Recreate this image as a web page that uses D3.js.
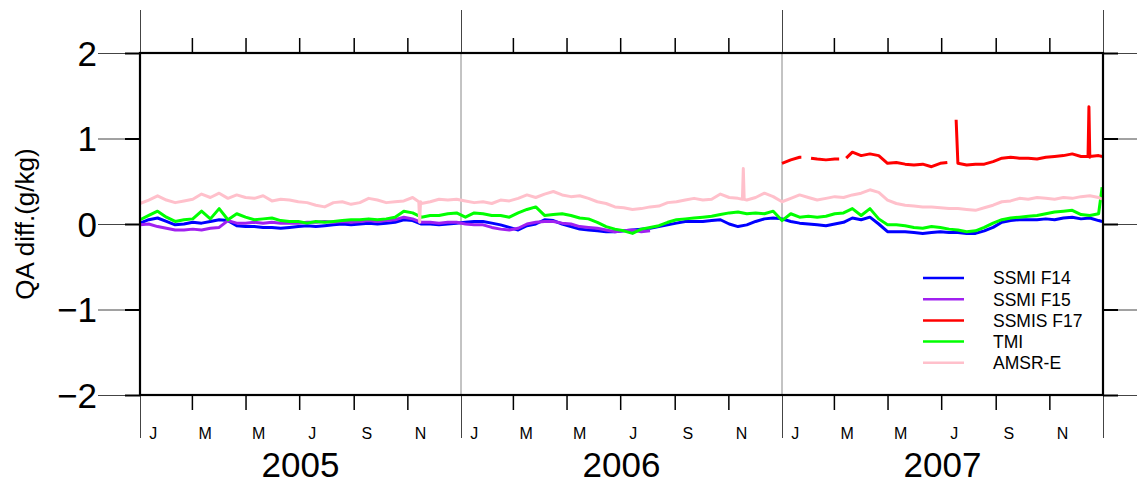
<!DOCTYPE html>
<html><head><meta charset="utf-8">
<script src="https://cdn.jsdelivr.net/npm/d3@7"></script>
<style>
html,body{margin:0;padding:0;background:#fff;}
svg text{font-family:"Liberation Sans",Arial,Helvetica,sans-serif;}
</style></head>
<body><svg id="c" width="1137" height="484"></svg>
<script>
// ---- data (days since 2005-01-01, every 10 days, plus the final day) ----
const days = d3.range(0, 1091, 10).concat([1094]);
const years = [2005, 2006, 2007];
const yTicks = [-2, -1, 0, 1, 2];
const monthLetters = ["J","F","M","A","M","J","J","A","S","O","N","D"];
const seriesNames = ["SSMI F14", "SSMI F15", "SSMIS F17", "TMI", "AMSR-E"];
const seriesColors = ["#0000ff", "#a020f0", "#ff0000", "#00ff00", "#ffc0cb"];

const f14 = [0.01,0.05,0.07,0.03,-0.01,0.00,0.02,0.01,0.03,0.05,0.04,-0.02,-0.03,-0.03,-0.04,-0.04,-0.05,-0.04,-0.03,-0.02,
 -0.03,-0.02,-0.01,0.00,-0.01,0.00,0.01,0.00,0.01,0.02,0.05,0.04,0.00,0.00,-0.01,0.00,0.01,0.02,0.03,0.03,
 0.01,-0.01,-0.04,-0.07,-0.02,0.00,0.05,0.04,0.00,-0.03,-0.06,-0.07,-0.08,-0.09,-0.09,-0.08,-0.07,-0.06,-0.05,-0.03,
 -0.01,0.01,0.03,0.03,0.03,0.04,0.05,0.00,-0.03,-0.01,0.03,0.06,0.07,0.06,0.03,0.01,0.00,-0.01,-0.02,0.00,
 0.02,0.07,0.05,0.08,0.00,-0.09,-0.09,-0.09,-0.10,-0.11,-0.10,-0.09,-0.10,-0.10,-0.11,-0.11,-0.08,-0.04,0.02,0.04,
 0.05,0.05,0.05,0.06,0.05,0.07,0.08,0.06,0.07,0.04,0.03];
const f15 = [-0.01,0.00,-0.03,-0.05,-0.07,-0.07,-0.06,-0.07,-0.05,-0.04,0.04,0.01,0.01,0.02,0.01,0.02,0.01,0.01,0.01,0.02,
 0.02,0.03,0.02,0.03,0.02,0.03,0.04,0.03,0.04,0.05,0.08,0.06,0.02,0.02,0.01,0.02,0.02,0.00,-0.01,-0.01,
 -0.04,-0.06,-0.07,-0.05,0.00,0.02,0.03,0.03,0.01,0.00,-0.03,-0.04,-0.05,-0.07,-0.09,-0.08,-0.07,-0.09,-0.08,null,
 null,null,null,null,null,null,null,null,null,null,null,null,null,null,null,null,null,null,null,null,
 null,null,null,null,null,null,null,null,null,null,null,null,null,null,null,null,null,null,null,null,
 null,null,null,null,null,null,null,null,null,null,null];
const f17 = [null,null,null,null,null,null,null,null,null,null,null,null,null,null,null,null,null,null,null,null,
 null,null,null,null,null,null,null,null,null,null,null,null,null,null,null,null,null,null,null,null,
 null,null,null,null,null,null,null,null,null,null,null,null,null,null,null,null,null,null,null,null,
 null,null,null,null,null,null,null,null,null,null,null,null,null,0.71,0.75,0.78,null,0.76,0.75,0.76,
 null,0.84,0.80,0.82,0.80,0.71,0.72,0.70,0.69,0.70,0.67,0.71,null,0.71,0.69,0.70,0.70,0.73,0.77,0.78,
 0.77,0.77,0.76,0.78,0.79,0.80,0.82,0.79,0.78,0.80,0.79];
// SSMIS F17 values right at the edges of its data gaps: [day, value]
const f17Edges = [[752, 0.78], [763, 0.77], [795, 0.76], [803, 0.77], [918, 0.72]];
const tmi = [0.05,0.10,0.15,0.08,0.03,0.05,0.06,0.15,0.06,0.18,0.05,0.12,0.08,0.05,0.06,0.07,0.04,0.03,0.03,0.01,
 0.03,0.02,0.03,0.04,0.05,0.05,0.06,0.05,0.06,0.08,0.15,0.13,0.08,0.10,0.10,0.12,0.13,0.08,0.13,0.12,
 0.10,0.10,0.08,0.13,0.17,0.20,0.10,0.11,0.12,0.10,0.07,0.06,0.02,-0.03,-0.06,-0.08,-0.11,-0.06,-0.04,-0.02,
 0.02,0.05,0.06,0.07,0.08,0.09,0.11,0.13,0.14,0.12,0.13,0.12,0.15,0.04,0.12,0.08,0.09,0.08,0.09,0.12,
 0.13,0.18,0.10,0.18,0.06,-0.01,-0.01,-0.02,-0.04,-0.05,-0.03,-0.04,-0.06,-0.07,-0.09,-0.08,-0.04,0.01,0.05,0.07,
 0.08,0.09,0.10,0.12,0.14,0.15,0.16,0.11,0.10,0.12,0.43];
const amsre = [0.24,0.28,0.33,0.28,0.25,0.27,0.29,0.35,0.31,0.36,0.30,0.34,0.31,0.30,0.33,0.27,0.29,0.28,0.26,0.25,
 0.22,0.20,0.25,0.26,0.23,0.25,0.30,0.28,0.25,0.26,0.27,0.31,0.24,0.26,0.29,0.28,0.29,0.27,0.25,0.26,
 0.24,0.28,0.27,0.30,0.34,0.31,0.35,0.38,0.34,0.32,0.33,0.30,0.26,0.24,0.20,0.19,0.17,0.18,0.20,0.21,
 0.25,0.26,0.28,0.30,0.28,0.29,0.35,0.31,0.30,0.28,0.31,0.36,0.32,0.26,0.30,0.34,0.31,0.28,0.30,0.32,
 0.31,0.34,0.36,0.40,0.37,0.28,0.24,0.22,0.21,0.20,0.20,0.19,0.18,0.18,0.17,0.16,0.19,0.22,0.26,0.27,
 0.30,0.29,0.31,0.30,0.29,0.31,0.30,0.32,0.33,0.31,0.29];
// single-day spikes: series index, day, peak value, surrounding value
const spikes = [
  {s:4, day:318, peak:0.02, base:0.26},
  {s:4, day:686, peak:0.65, base:0.29},
  {s:2, day:928, peak:1.22, base:null},
  {s:2, day:1079, peak:1.37, base:0.79}
];
const seriesValues = [f14, f15, f17, tmi, amsre];

// ---- layout ----
const L = 140, R = 1103, T = 53, B = 395;
const svg = d3.select("#c");
const t0 = Date.UTC(2005,0,1);
const dayDate = d => new Date(t0 + d*864e5);
const x = d3.scaleUtc().domain([new Date(Date.UTC(2005,0,1)), new Date(Date.UTC(2008,0,1))]).range([L, R]);
const y = d3.scaleLinear().domain([-2, 2]).range([B, T]);

const yearStarts = years.concat([2008]).map(yr => new Date(Date.UTC(yr,0,1)));
const monthTicks = d3.utcMonth.every(2).range(new Date(Date.UTC(2005,0,1)), new Date(Date.UTC(2008,0,1)));
const innerMonths = monthTicks.filter(d => d.getUTCMonth() !== 0);

// year boundary lines inside plot
svg.append("g").selectAll("line").data(yearStarts.slice(1,3)).join("line")
  .attr("x1", d => x(d)).attr("x2", d => x(d)).attr("y1", T).attr("y2", B)
  .attr("stroke", "#888").attr("stroke-width", 1);

// series
const line = d3.line().defined(p => p[1] != null).x(p => x(dayDate(p[0]))).y(p => y(p[1]));
seriesValues.forEach((vals, si) => {
  let pts = days.map((d, i) => [d, vals[i]]);
  if (si === 2) f17Edges.forEach(p => pts.push([p[0], p[1]]));
  spikes.filter(s => s.s === si).forEach(s => {
    pts.push([s.day, s.peak]);
    if (s.base != null) { pts.push([s.day - 1, s.base]); pts.push([s.day + 1, s.base]); }
  });
  pts.sort((a, b) => a[0] - b[0]);
  svg.append("path").datum(pts).attr("d", line)
    .attr("fill", "none").attr("stroke", seriesColors[si]).attr("stroke-width", 3)
    .attr("stroke-linejoin", "round");
});

// top axis: 2-month ticks up, year boundaries long
svg.append("g").attr("transform", `translate(0,${T})`)
  .call(d3.axisTop(x).tickValues(innerMonths).tickSize(15).tickFormat(""))
  .call(g => { g.select(".domain").remove(); g.selectAll("line").attr("stroke","#000").attr("stroke-width",1.5); });
svg.append("g").attr("transform", `translate(0,${T})`)
  .call(d3.axisTop(x).tickValues(yearStarts).tickSize(43).tickFormat(""))
  .call(g => { g.select(".domain").remove(); g.selectAll("line").attr("stroke","#444").attr("stroke-width",1); });

// bottom axis
svg.append("g").attr("transform", `translate(0,${B})`)
  .call(d3.axisBottom(x).tickValues(innerMonths).tickSize(15).tickFormat(""))
  .call(g => { g.select(".domain").remove(); g.selectAll("line").attr("stroke","#000").attr("stroke-width",1.5); });
svg.append("g").attr("transform", `translate(0,${B})`)
  .call(d3.axisBottom(x).tickValues(yearStarts).tickSize(43).tickFormat(""))
  .call(g => { g.select(".domain").remove(); g.selectAll("line").attr("stroke","#444").attr("stroke-width",1); });

// month letters (centered mid-month)
svg.append("g").selectAll("text").data(monthTicks).join("text")
  .attr("x", d => x(d3.utcDay.offset(d, 15))).attr("y", 439)
  .attr("text-anchor", "middle").attr("font-size", 16).attr("fill", "#000")
  .text(d => monthLetters[d.getUTCMonth()]);

// year labels
svg.append("g").selectAll("text").data(years).join("text")
  .attr("x", yr => (x(new Date(Date.UTC(yr,0,1))) + x(new Date(Date.UTC(yr+1,0,1)))) / 2).attr("y", 477)
  .attr("text-anchor", "middle").attr("font-size", 35).attr("fill", "#000")
  .text(yr => yr);

// left y axis: long thin tick + short thick tick
svg.append("g").attr("transform", `translate(${L},0)`)
  .call(d3.axisLeft(y).tickValues(yTicks).tickSize(42).tickFormat(""))
  .call(g => { g.select(".domain").remove(); g.selectAll("line").attr("stroke","#444").attr("stroke-width",1); });
svg.append("g").attr("transform", `translate(${L},0)`)
  .call(d3.axisLeft(y).tickValues(yTicks).tickSize(15).tickFormat(""))
  .call(g => { g.select(".domain").remove(); g.selectAll("line").attr("stroke","#000").attr("stroke-width",2); });
svg.append("g").selectAll("text").data(yTicks).join("text")
  .attr("x", 97).attr("y", d => y(d) + 12.5).attr("text-anchor", "end")
  .attr("font-size", 35).attr("fill", "#000")
  .text(d => d < 0 ? "\u2212" + Math.abs(d) : d);

// right y axis
svg.append("g").attr("transform", `translate(${R},0)`)
  .call(d3.axisRight(y).tickValues(yTicks).tickSize(36).tickFormat(""))
  .call(g => { g.select(".domain").remove(); g.selectAll("line").attr("stroke","#444").attr("stroke-width",1); });
svg.append("g").attr("transform", `translate(${R},0)`)
  .call(d3.axisRight(y).tickValues(yTicks).tickSize(15).tickFormat(""))
  .call(g => { g.select(".domain").remove(); g.selectAll("line").attr("stroke","#000").attr("stroke-width",2); });

// frame
svg.append("rect").attr("x", L).attr("y", T).attr("width", R - L).attr("height", B - T)
  .attr("fill", "none").attr("stroke", "#000").attr("stroke-width", 2.2);

// y title
svg.append("text").attr("transform", `translate(34,${(T+B)/2}) rotate(-90)`)
  .attr("text-anchor", "middle").attr("font-size", 26).attr("fill", "#000")
  .text("QA diff.(g/kg)");

// legend
const lg = svg.append("g");
seriesNames.forEach((n, i) => {
  const yy = 278 + i * 21.2;
  lg.append("line").attr("x1", 923).attr("x2", 964).attr("y1", yy).attr("y2", yy)
    .attr("stroke", seriesColors[i]).attr("stroke-width", 2.5);
  lg.append("text").attr("x", 993).attr("y", yy + 6.3).attr("font-size", 17.5).attr("fill", "#000").text(n);
});
</script></body></html>
